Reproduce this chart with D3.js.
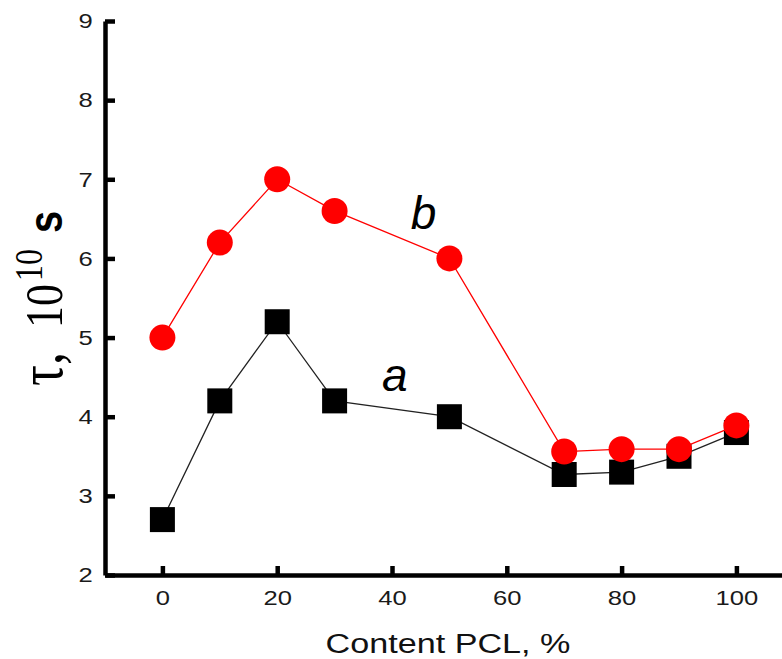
<!DOCTYPE html>
<html>
<head>
<meta charset="utf-8">
<script src="https://cdn.jsdelivr.net/npm/d3@7/dist/d3.min.js"></script>
<style>
  body { margin: 0; background: #fff; }
  svg { display: block; }
  .axis path, .axis line { stroke: #000; stroke-width: 4.5; }
  .axis text { font-family: "Liberation Sans", Arial, sans-serif; font-size: 21px; fill: #1a1a1a; }
</style>
</head>
<body>
<div id="chart"></div>
<script>
// data
var content = [0, 10, 20, 30, 50, 70, 80, 90, 100];
var series_a = [2.7, 4.2, 5.2, 4.2, 4.0, 3.27, 3.3, 3.5, 3.8];
var series_b = [5.0, 6.2, 7.0, 6.6, 6.0, 3.56, 3.59, 3.59, 3.89];
var x_ticks = [0, 20, 40, 60, 80, 100];
var y_ticks = [2, 3, 4, 5, 6, 7, 8, 9];

var width = 782;
var height = 659;
var stretch = 1.22; // the picture's text is a bit wide

var svg = d3.select('#chart').append('svg')
  .attr('width', width)
  .attr('height', height);

// scales
var xScale = d3.scaleLinear().domain([-10, 110]).range([105, 105 + 120 * 5.74]);
var yScale = d3.scaleLinear().domain([2, 9]).range([575, 21]);

// x axis (ticks pointing inward)
var xAxis = d3.axisBottom(xScale)
  .tickValues(x_ticks)
  .tickFormat(d3.format('d'))
  .tickSizeInner(-9)
  .tickSizeOuter(0)
  .tickPadding(15);
var gx = svg.append('g')
  .attr('class', 'x axis')
  .attr('transform', 'translate(0,' + yScale(2) + ')')
  .call(xAxis);
gx.selectAll('text').attr('transform', 'scale(' + stretch + ',1)');

// y axis
var yAxis = d3.axisLeft(yScale)
  .tickValues(y_ticks)
  .tickFormat(d3.format('d'))
  .tickSizeInner(-10)
  .tickSizeOuter(0)
  .tickPadding(10);
var gy = svg.append('g')
  .attr('class', 'y axis')
  .attr('transform', 'translate(' + xScale(-10) + ',0)')
  .call(yAxis);
gy.selectAll('text').attr('transform', 'scale(' + stretch + ',1)');

// axis titles
svg.append('text')
  .text('Content PCL, %')
  .attr('transform', 'translate(448,653) scale(' + stretch + ',1)')
  .attr('text-anchor', 'middle')
  .style('font-family', '"Liberation Sans", Arial, sans-serif')
  .style('font-size', '28px')
  .style('fill', '#111');

var serif = '"Liberation Serif", "Times New Roman", serif';
var ylab = svg.append('text')
  .attr('transform', 'scale(' + stretch + ',1) translate(' + (62 / stretch) + ',0) rotate(-90)')
  .style('fill', '#000');
ylab.append('tspan').text('τ,').attr('x', -386).attr('y', 0)
  .style('font-family', serif).style('font-size', '52px');
ylab.append('tspan').text('10').attr('x', -328).attr('y', 0)
  .style('font-family', serif).style('font-size', '44px');
ylab.append('tspan').text('10').attr('x', -281).attr('y', -16)
  .style('font-family', serif).style('font-size', '32px');
ylab.append('tspan').text('s').attr('x', -233).attr('y', 0)
  .style('font-family', '"Liberation Sans", Arial, sans-serif').style('font-size', '40px').style('font-weight', 'bold');

// lines
var line_a = d3.line()
  .x(function (d, i) { return xScale(content[i]); })
  .y(function (d) { return yScale(d); });

svg.append('path')
  .datum(series_a)
  .attr('d', line_a)
  .attr('fill', 'none')
  .attr('stroke', '#222')
  .attr('stroke-width', 1.3);

svg.selectAll('.square')
  .data(series_a)
  .enter()
  .append('rect')
  .attr('class', 'square')
  .attr('x', function (d, i) { return xScale(content[i]) - 12.5; })
  .attr('y', function (d) { return yScale(d) - 12.5; })
  .attr('width', 25)
  .attr('height', 25)
  .attr('fill', '#000');

svg.append('path')
  .datum(series_b)
  .attr('d', line_a)
  .attr('fill', 'none')
  .attr('stroke', '#ff0000')
  .attr('stroke-width', 1.3);

svg.selectAll('.dot')
  .data(series_b)
  .enter()
  .append('circle')
  .attr('class', 'dot')
  .attr('cx', function (d, i) { return xScale(content[i]); })
  .attr('cy', function (d) { return yScale(d); })
  .attr('r', 13)
  .attr('fill', '#ff0000');

// series labels
svg.append('text')
  .text('b')
  .attr('x', xScale(45.5))
  .attr('y', 229)
  .attr('text-anchor', 'middle')
  .style('font-family', '"Liberation Sans", Arial, sans-serif')
  .style('font-style', 'italic')
  .style('font-size', '46px')
  .style('fill', '#000');

svg.append('text')
  .text('a')
  .attr('x', xScale(40.5))
  .attr('y', 391)
  .attr('text-anchor', 'middle')
  .style('font-family', '"Liberation Sans", Arial, sans-serif')
  .style('font-style', 'italic')
  .style('font-size', '46px')
  .style('fill', '#000');
</script>
</body>
</html>
